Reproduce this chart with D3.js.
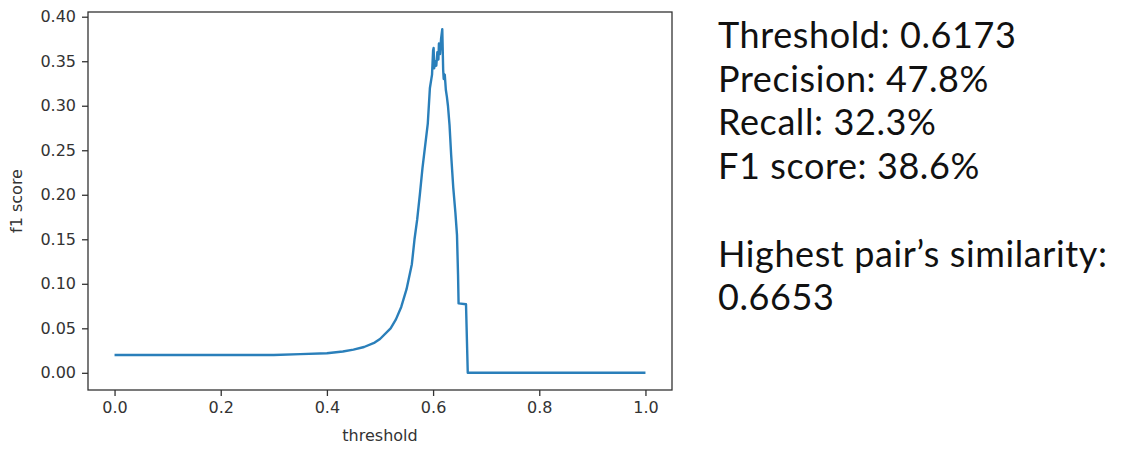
<!DOCTYPE html>
<html>
<head>
<meta charset="utf-8">
<script src="https://cdn.jsdelivr.net/npm/d3@7"></script>
<style>
  body { margin: 0; background: #fff; }
  svg { display: block; }
</style>
</head>
<body>
<div id="chart"></div>
<script>
// f1 score against threshold
const thresholds = [0.0, 0.1, 0.2, 0.3, 0.35, 0.40, 0.43, 0.45, 0.47, 0.49, 0.50, 0.52, 0.53, 0.54, 0.55,
    0.56, 0.565, 0.57, 0.575, 0.58, 0.585, 0.59, 0.594, 0.598, 0.600, 0.601, 0.602, 0.604, 0.606, 0.608,
    0.610, 0.611, 0.613, 0.615, 0.6173, 0.619, 0.620, 0.622, 0.624, 0.626, 0.628, 0.631, 0.634, 0.638,
    0.642, 0.645, 0.647, 0.648, 0.662, 0.6653, 0.8, 1.0];
const f1Scores = [0.020, 0.020, 0.020, 0.020, 0.021, 0.022, 0.024, 0.026, 0.029, 0.034, 0.038, 0.050, 0.060, 0.074, 0.094,
    0.122, 0.150, 0.172, 0.200, 0.230, 0.255, 0.280, 0.320, 0.335, 0.362, 0.365, 0.342, 0.350, 0.345, 0.360,
    0.352, 0.370, 0.358, 0.375, 0.386, 0.340, 0.330, 0.335, 0.318, 0.310, 0.300, 0.278, 0.245, 0.208,
    0.180, 0.155, 0.110, 0.078, 0.077, 0.000, 0.000, 0.000];

const xTicks = [0.0, 0.2, 0.4, 0.6, 0.8, 1.0];
const yTicks = [0.00, 0.05, 0.10, 0.15, 0.20, 0.25, 0.30, 0.35, 0.40];

const statLines = ["Threshold: 0.6173", "Precision: 47.8%", "Recall: 32.3%", "F1 score: 38.6%",
    "", "Highest pair\u2019s similarity:", "0.6653"];

const width = 1134, height = 449;
const margin = { left: 88, top: 12, right: 462, bottom: 59 };
const innerW = width - margin.left - margin.right;
const innerH = height - margin.top - margin.bottom;

const svg = d3.select("#chart").append("svg")
    .attr("width", width)
    .attr("height", height);

// matplotlib style 5% padding around the data
const x = d3.scaleLinear().domain([-0.05, 1.05]).range([0, innerW]);
const y = d3.scaleLinear().domain([-0.0193, 0.4053]).range([innerH, 0]);

const g = svg.append("g").attr("transform", `translate(${margin.left},${margin.top})`);

const line = d3.line()
    .x((d, i) => x(thresholds[i]))
    .y(d => y(d));

g.append("path")
    .datum(f1Scores)
    .attr("fill", "none")
    .attr("stroke", "#2a7fba")
    .attr("stroke-width", 2.4)
    .attr("stroke-linejoin", "round")
    .attr("d", line);

const xAxis = g.append("g")
    .attr("transform", `translate(0,${innerH})`)
    .call(d3.axisBottom(x).tickValues(xTicks).tickFormat(d3.format(".1f")).tickSize(6).tickPadding(6));
const yAxis = g.append("g")
    .call(d3.axisLeft(y).tickValues(yTicks).tickFormat(d3.format(".2f")).tickSize(6).tickPadding(6));

[xAxis, yAxis].forEach(a => {
    a.select(".domain").remove();
    a.selectAll("line").attr("stroke", "#333").attr("stroke-width", 1.3);
    a.selectAll("text").attr("fill", "#333")
        .style("font-family", "'DejaVu Sans', sans-serif").style("font-size", "16px");
});

g.append("rect")
    .attr("width", innerW).attr("height", innerH)
    .attr("fill", "none").attr("stroke", "#333").attr("stroke-width", 1.3);

g.append("text")
    .attr("x", innerW / 2).attr("y", innerH + 51)
    .attr("text-anchor", "middle").attr("fill", "#333")
    .style("font-family", "'DejaVu Sans', sans-serif").style("font-size", "16px")
    .text("threshold");

g.append("text")
    .attr("transform", `translate(${-66},${innerH / 2}) rotate(-90)`)
    .attr("text-anchor", "middle").attr("fill", "#333")
    .style("font-family", "'DejaVu Sans', sans-serif").style("font-size", "16px")
    .text("f1 score");

svg.append("g").selectAll("text")
    .data(statLines)
    .join("text")
    .attr("x", 718)
    .attr("y", (d, i) => 48 + i * 43.7)
    .attr("fill", "#111")
    .style("font-family", "Lato, sans-serif")
    .style("font-size", "36px")
    .style("letter-spacing", "0.6px")
    .text(d => d);
</script>
</body>
</html>
